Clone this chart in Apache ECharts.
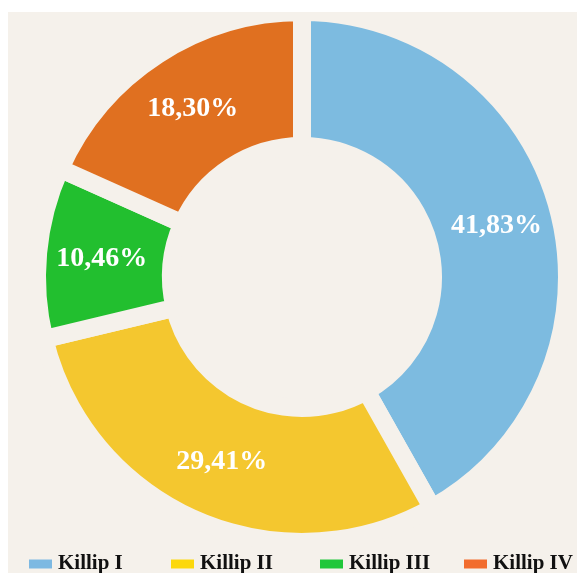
<!DOCTYPE html>
<html>
<head>
<meta charset="utf-8">
<script src="https://cdn.jsdelivr.net/npm/echarts@6/dist/echarts.min.js"></script>
<style>
  html, body { margin: 0; padding: 0; background: #ffffff; }
  #chart { position: absolute; left: 8px; top: 12px; width: 569px; height: 561px; background: #f5f1eb; }
</style>
</head>
<body>
<div id="chart"></div>
<script>
// Killip class distribution (percent)
var categories = ['Killip I', 'Killip II', 'Killip III', 'Killip IV'];
var shares = [41.83, 29.41, 10.46, 18.30];
var sliceColors = ['#7dbbe0', '#f4c72f', '#22bf2f', '#e07020'];
var legendColors = ['#7db9e2', '#fcd80c', '#1fc73a', '#f26c2d'];

var bg = '#f5f1eb';
var serif = "'Liberation Serif', 'Times New Roman', serif";

// one legend block per class so each sits at its own fixed slot
var legendLeft = [19, 161, 310, 454];

var chart = echarts.init(document.getElementById('chart'));

var seriesData = categories.map(function (name, i) {
  return { name: name, value: shares[i], itemStyle: { color: sliceColors[i] } };
});

var legends = categories.map(function (name, i) {
  return {
    data: [{ name: name, itemStyle: { color: legendColors[i] } }],
    left: legendLeft[i],
    top: 541,
    padding: 0,
    itemWidth: 25,
    itemHeight: 11,
    icon: 'rect',
    selectedMode: false,
    textStyle: {
      fontFamily: serif,
      fontWeight: 'bold',
      fontSize: 21,
      color: '#111111',
      lineHeight: 22
    }
  };
});

chart.setOption({
  backgroundColor: bg,
  animation: false,
  legend: legends,
  series: [{
    type: 'pie',
    center: [294, 265],
    radius: [131, 265],
    startAngle: 90,
    clockwise: true,
    avoidLabelOverlap: false,
    itemStyle: { borderColor: bg, borderWidth: 18 },
    label: {
      show: true,
      position: 'inside',
      color: '#ffffff',
      fontFamily: serif,
      fontWeight: 'bold',
      fontSize: 28,
      formatter: function (p) {
        return p.value.toFixed(2).replace('.', ',') + '%';
      }
    },
    labelLine: { show: false },
    emphasis: { disabled: true },
    data: seriesData
  }]
});
</script>
</body>
</html>
